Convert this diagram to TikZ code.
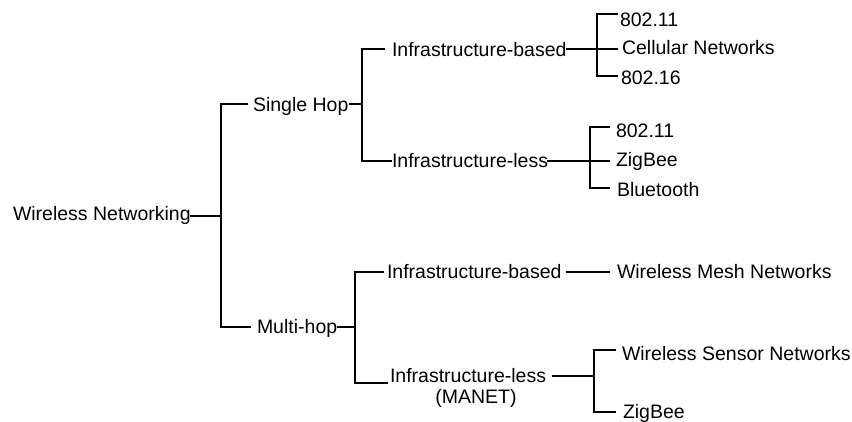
\documentclass[tikz,border=0pt]{standalone}
\usepackage{fontspec}
\setmainfont{Liberation Sans}
\begin{document}
\begin{tikzpicture}[x=1pt,y=-1pt,
  lbl/.style={anchor=base west,inner sep=0pt,outer sep=0pt,
              font=\fontsize{19.5}{21}\selectfont},
  conn/.style={line width=1.5pt,line cap=rect}]
\useasboundingbox[fill=white] (0,0) rectangle (852,421);

% labels
\node[lbl] (root) at (13,220)  {Wireless Networking};
\node[lbl] (sh)   at (253,111) {Single Hop};
\node[lbl] (mh)   at (257,333) {Multi-hop};
\node[lbl] (ib1)  at (392,56)  {Infrastructure-based};
\node[lbl] (il1)  at (392,167) {Infrastructure-less};
\node[lbl] (a1)   at (620,26)  {802.11};
\node[lbl] (a2)   at (622,54)  {Cellular Networks};
\node[lbl] (a3)   at (621,84)  {802.16};
\node[lbl] (b1)   at (616,137) {802.11};
\node[lbl] (b2)   at (616,166) {ZigBee};
\node[lbl] (b3)   at (617,196) {Bluetooth};
\node[lbl] (ib2)  at (387,278) {Infrastructure-based};
\node[lbl] (wmn)  at (617,278) {Wireless Mesh Networks};
\node[lbl] (il2)  at (390,382) {Infrastructure-less};
\node[lbl,anchor=base] (manet) at ([xshift=8pt,yshift=-21pt]il2.base) {(MANET)};
\node[lbl] (wsn)  at (622,360) {Wireless Sensor Networks};
\node[lbl] (z3)   at (623,418) {ZigBee};

% bracket junctions
\coordinate (r0) at (221,216);
\coordinate (r1) at (221,104);
\coordinate (r2) at (221,327);
\coordinate (s0) at (362,104);
\coordinate (s1) at (362,49);
\coordinate (s2) at (362,161);
\coordinate (t1) at (597,14);
\coordinate (t0) at (597,49);
\coordinate (t2) at (597,76);
\coordinate (u1) at (590,127);
\coordinate (u0) at (590,161);
\coordinate (u2) at (590,188);
\coordinate (m0) at (355,327);
\coordinate (m1) at (355,272);
\coordinate (m2) at (355,383);
\coordinate (v0) at (594,376);
\coordinate (v1) at (594,350);
\coordinate (v2) at (594,412);

% root
\draw[conn] (root.east |- r0) -- (r0);
\draw[conn] (r1) -- (r2);
\draw[conn] (r1) -- ([xshift=-6pt]sh.west |- r1);
\draw[conn] (r2) -- ([xshift=-7pt]mh.west |- r2);

% single hop
\draw[conn] ([xshift=1pt]sh.east |- s0) -- (s0);
\draw[conn] (s1) -- (s2);
\draw[conn] (s1) -- ([xshift=-8pt]ib1.west |- s1);
\draw[conn] (s2) -- ([xshift=-1pt]il1.west |- s2);

% infrastructure-based (single hop)
\draw[conn] (ib1.east |- t0) -- ([xshift=-5pt]a2.west |- t0);
\draw[conn] (t1) -- (t2);
\draw[conn] (t1) -- ([xshift=-3pt]a1.west |- t1);
\draw[conn] (t2) -- ([xshift=-4pt]a3.west |- t2);

% infrastructure-less (single hop)
\draw[conn] (il1.east |- u0) -- ([xshift=-7pt]b2.west |- u0);
\draw[conn] (u1) -- (u2);
\draw[conn] (u1) -- ([xshift=-7pt]b1.west |- u1);
\draw[conn] (u2) -- ([xshift=-8pt]b3.west |- u2);

% multi-hop
\draw[conn] ([xshift=1pt]mh.east |- m0) -- (m0);
\draw[conn] (m1) -- (m2);
\draw[conn] (m1) -- ([xshift=-4pt]ib2.west |- m1);
\draw[conn] (m2) -- ([xshift=-3pt]il2.west |- m2);

% infrastructure-based (multi-hop)
\draw[conn] ([xshift=5pt]ib2.east |- m1) -- ([xshift=-8pt]wmn.west |- m1);

% infrastructure-less (MANET)
\draw[conn] ([xshift=7pt]il2.east |- v0) -- (v0);
\draw[conn] (v1) -- (v2);
\draw[conn] (v1) -- ([xshift=-7pt]wsn.west |- v1);
\draw[conn] (v2) -- ([xshift=-8pt]z3.west |- v2);
\end{tikzpicture}
\end{document}
